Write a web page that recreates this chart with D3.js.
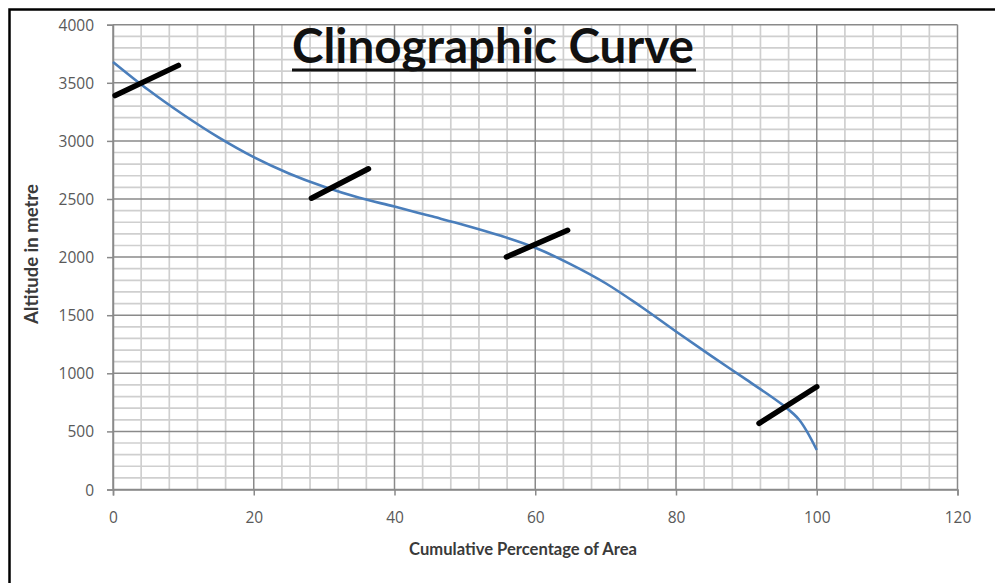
<!DOCTYPE html>
<html>
<head>
<meta charset="utf-8">
<script src="https://cdn.jsdelivr.net/npm/d3@7"></script>
<style>
html,body{margin:0;padding:0;background:#fff;}
svg{display:block;}
</style>
</head>
<body>
<svg id="chart" width="995" height="583"></svg>
<script>
// ---- data ----
const titleText = "Clinographic Curve";
const xLabel = "Cumulative Percentage of Area";
const yLabel = "Altitude in metre";
const xTicks = [0, 20, 40, 60, 80, 100, 120];
const yTicks = [0, 500, 1000, 1500, 2000, 2500, 3000, 3500, 4000];
const areaPct = [0, 5, 10, 15, 20, 25, 30, 35, 40, 45, 50, 55, 60, 65, 70, 75, 80, 85, 90, 95, 97.5, 100];
const altitude = [3680, 3440, 3225, 3030, 2860, 2720, 2605, 2510, 2435, 2355, 2275, 2185, 2080, 1940, 1775, 1575, 1360, 1150, 945, 735, 600, 340];
// hand-drawn break marks: [x1, y1, x2, y2]
const breakX1 = [0.3, 28.2, 55.9, 91.8];
const breakY1 = [3390, 2507, 2001, 569];
const breakX2 = [9.3, 36.3, 64.6, 100];
const breakY2 = [3650, 2760, 2231, 884];

const svg = d3.select("#chart");
const x = d3.scaleLinear().domain([0, 120]).range([113, 957.5]);
const y = d3.scaleLinear().domain([0, 4000]).range([489.5, 24.7]);

// outer frame (top and left visible)
svg.append("rect").attr("x", 9.5).attr("y", 9.5).attr("width", 1100).attr("height", 700)
  .attr("fill", "none").attr("stroke", "#000").attr("stroke-width", 2.5);

const grid = svg.append("g");
// minor grid
const xMinor = d3.range(0, 121, 4).filter(v => v % 20 !== 0);
const yMinor = d3.range(0, 4001, 100).filter(v => v % 500 !== 0);
grid.selectAll(".vx").data(xMinor).enter().append("line")
  .attr("x1", d => x(d)).attr("x2", d => x(d)).attr("y1", y(0)).attr("y2", y(4000))
  .attr("stroke", "#cfcfcf").attr("stroke-width", 1.7);
grid.selectAll(".hy").data(yMinor).enter().append("line")
  .attr("y1", d => y(d)).attr("y2", d => y(d)).attr("x1", x(0)).attr("x2", x(120))
  .attr("stroke", "#cfcfcf").attr("stroke-width", 1.7);
// major grid
grid.selectAll(".vX").data(xTicks).enter().append("line")
  .attr("x1", d => x(d)).attr("x2", d => x(d)).attr("y1", y(0)).attr("y2", y(4000))
  .attr("stroke", "#8a8a8a").attr("stroke-width", 1.5);
grid.selectAll(".hY").data(yTicks).enter().append("line")
  .attr("y1", d => y(d)).attr("y2", d => y(d)).attr("x1", x(0)).attr("x2", x(120))
  .attr("stroke", "#8a8a8a").attr("stroke-width", 1.5);

// axes
const fmt = d3.format("d");
const xAxis = d3.axisBottom(x).tickValues(xTicks).tickFormat(fmt).tickSize(6).tickPadding(16);
const yAxis = d3.axisLeft(y).tickValues(yTicks).tickFormat(fmt).tickSize(6).tickPadding(13);
const gx = svg.append("g").attr("transform", `translate(0,${y(0)})`).call(xAxis);
const gy = svg.append("g").attr("transform", `translate(${x(0)},0)`).call(yAxis);
[gx, gy].forEach(g => {
  g.select(".domain").attr("stroke", "#8a8a8a").attr("stroke-width", 1.5);
  g.selectAll(".tick line").attr("stroke", "#8a8a8a").attr("stroke-width", 1.5);
  g.selectAll(".tick text").attr("fill", "#595959").style("font-family", "'Open Sans', sans-serif").style("font-size", "15.5px");
});
gy.selectAll(".tick text").attr("dy", "0.36em");

// curve
const line = d3.line().x((d, i) => x(areaPct[i])).y((d, i) => y(altitude[i])).curve(d3.curveCatmullRom.alpha(0.5));
svg.append("path").datum(altitude).attr("d", line)
  .attr("fill", "none").attr("stroke", "#4a7ebb").attr("stroke-width", 2.6);

// break marks
svg.selectAll(".brk").data(breakX1).enter().append("line")
  .attr("x1", (d, i) => x(breakX1[i])).attr("y1", (d, i) => y(breakY1[i]))
  .attr("x2", (d, i) => x(breakX2[i])).attr("y2", (d, i) => y(breakY2[i]))
  .attr("stroke", "#000").attr("stroke-width", 5.5).attr("stroke-linecap", "round");

// title
function fitText(t, w) {
  const len = t.node().getComputedTextLength();
  const fs = parseFloat(t.style("font-size"));
  t.style("font-size", (fs * w / len) + "px");
}
const title = svg.append("text").attr("x", 493).attr("y", 63).attr("text-anchor", "middle")
  .style("font-family", "Lato, 'Open Sans', sans-serif").style("font-weight", "bold").style("font-size", "40px")
  .attr("fill", "#111").text(titleText);
fitText(title, 402);
svg.append("line").attr("x1", 292).attr("x2", 696).attr("y1", 70).attr("y2", 70)
  .attr("stroke", "#111").attr("stroke-width", 3);

// axis titles
const xt = svg.append("text").attr("x", 523).attr("y", 555).attr("text-anchor", "middle")
  .style("font-family", "Lato, 'Open Sans', sans-serif").style("font-weight", "bold").style("font-size", "13px")
  .attr("fill", "#3a3a3a").text(xLabel);
fitText(xt, 228);
const yt = svg.append("text").attr("transform", "translate(38,254) rotate(-90)").attr("text-anchor", "middle")
  .style("font-family", "Lato, 'Open Sans', sans-serif").style("font-weight", "bold").style("font-size", "13px")
  .attr("fill", "#3a3a3a").text(yLabel);
fitText(yt, 140);
</script>
</body>
</html>
